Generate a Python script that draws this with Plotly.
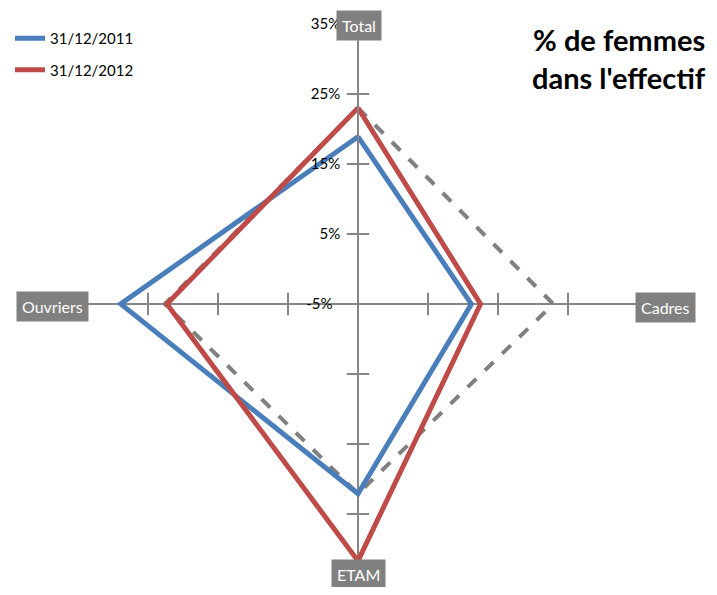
import plotly.graph_objects as go

# ---- data
categories = ['Total', 'Cadres', 'ETAM', 'Ouvriers']
serie_2011 = [18.9, 11.2, 22.1, 28.9]
serie_2012 = [23.0, 12.5, 31.7, 22.3]
serie_ref = [23.0, 22.9, 22.1, 22.6]
legend_names = ['31/12/2011', '31/12/2012']
tick_vals = [-5, 5, 15, 25, 35]
tick_text = ['-5%', '5%', '15%', '25%', '35%']

C = {
    'blue': '#4A7EBB',
    'red': '#BE4B48',
    'gray': '#808080',
    'axis': '#868686',
}

# page has an 8px body margin -> shrink the figure (no scrollbar) and shift coords
OFF = 8
W, H = 717 - 2 * OFF, 595 - 2 * OFF
cx, cy, R = 358 - OFF, 304 - OFF, 280
FONT = 'Lato'
NB = '\u00a0'


def closed(v):
    return list(v) + [v[0]]


def px(x):
    return (x - OFF) / W


def py(y):
    return 1 - (y - OFF) / H


fig = go.Figure()

# tick marks crossing the 4 spokes (Excel style)
mark_r, mark_t, mark_s = [], [], []
for cat in categories:
    for t in tick_vals[1:4]:
        mark_r.append(t)
        mark_t.append(cat)
        mark_s.append('line-ew' if cat in ('Total', 'ETAM') else 'line-ns')
fig.add_trace(go.Scatterpolar(
    r=mark_r, theta=mark_t, mode='markers',
    marker=dict(symbol=mark_s, size=16, line=dict(color=C['axis'], width=2)),
    showlegend=False, hoverinfo='skip'
))

fig.add_trace(go.Scatterpolar(
    r=closed(serie_ref), theta=closed(categories), mode='lines',
    line=dict(color=C['gray'], width=4, dash='dash'),
    showlegend=False
))
fig.add_trace(go.Scatterpolar(
    r=closed(serie_2011), theta=closed(categories), mode='lines',
    line=dict(color=C['blue'], width=5), name=legend_names[0],
    legendgroup='a'
))
fig.add_trace(go.Scatterpolar(
    r=closed(serie_2012), theta=closed(categories), mode='lines',
    line=dict(color=C['red'], width=5), name=legend_names[1],
    legendgroup='b'
))

# labels sit left of the vertical axis, the centre one a bit further
pads = [NB * (5 if v == tick_vals[0] else 3) for v in tick_vals]

fig.update_layout(
    width=W, height=H,
    paper_bgcolor='white',
    margin=dict(l=0, r=0, t=0, b=0),
    font=dict(family=FONT, color='black', size=15),
    polar=dict(
        domain=dict(x=[(cx - R) / W, (cx + R) / W],
                    y=[(H - cy - R) / H, (H - cy + R) / H]),
        bgcolor='white',
        radialaxis=dict(
            range=[-5, 35], tickvals=tick_vals,
            ticktext=[t + p for t, p in zip(tick_text, pads)],
            angle=90, tickangle=90, side='counterclockwise',
            showgrid=False, showline=True, linecolor=C['axis'], linewidth=2,
            ticks='', tickfont=dict(size=15, color='black')
        ),
        angularaxis=dict(
            direction='clockwise', rotation=90,
            showline=False, showticklabels=False, ticks='',
            showgrid=True, gridcolor=C['axis'], gridwidth=2
        )
    ),
    legend=dict(x=px(10), y=py(22), xanchor='left', yanchor='top',
                bgcolor='rgba(0,0,0,0)', font=dict(size=15),
                traceorder='grouped', tracegroupgap=9)
)

# category labels in gray boxes
label_pos = {
    'Total': (359, 25),
    'Cadres': (665, 307),
    'ETAM': (358, 574),
    'Ouvriers': (52, 306),
}
for cat in categories:
    x, y = label_pos[cat]
    fig.add_annotation(
        x=px(x), y=py(y), xref='paper', yref='paper',
        xanchor='center', yanchor='middle',
        text=cat, showarrow=False,
        font=dict(color='white', size=16),
        bgcolor=C['gray'], borderpad=5
    )

fig.add_annotation(
    x=px(708), y=py(20), xref='paper', yref='paper',
    xanchor='right', yanchor='top', align='right',
    text="<b>% de femmes<br>dans l'effectif</b>", showarrow=False,
    font=dict(size=29, color='black')
)

fig.write_html("out.html")
